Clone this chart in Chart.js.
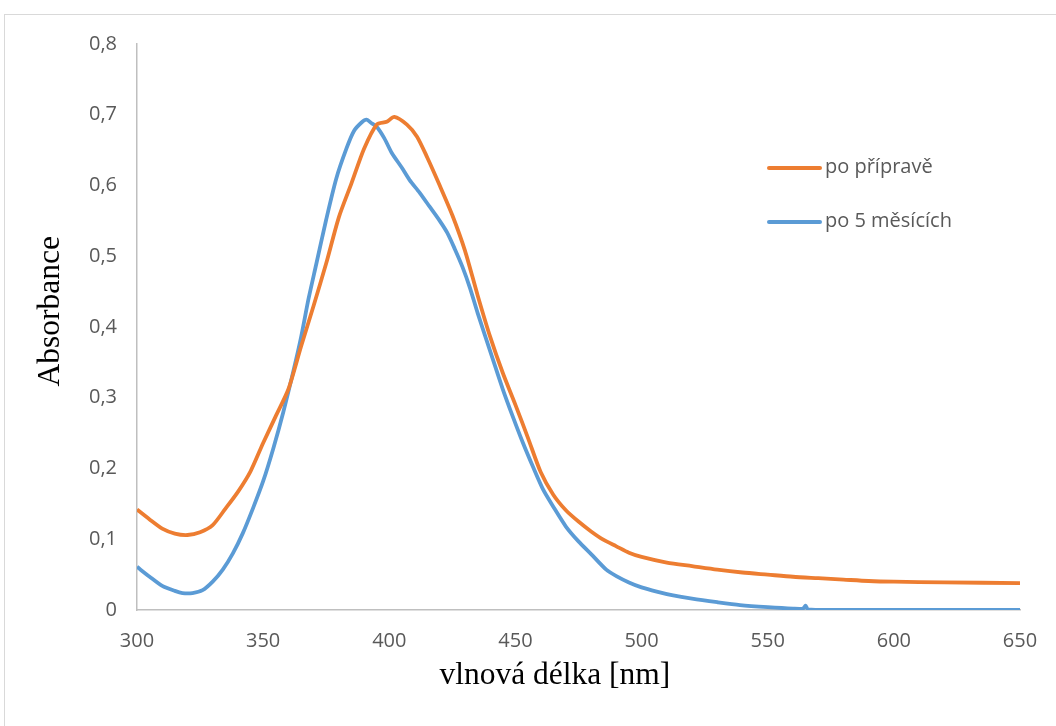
<!DOCTYPE html>
<html>
<head>
<meta charset="utf-8">
<script src="https://cdn.jsdelivr.net/npm/chart.js@4/dist/chart.umd.min.js"></script>
<style>
  html, body { margin: 0; padding: 0; background: #ffffff; overflow: hidden; }
  #frame { position: absolute; left: 4px; top: 14px; width: 1100px; height: 800px; border: 1px solid #d9d9d9; }
  #wrap { position: absolute; left: 0; top: 0; width: 1056px; height: 726px; }
</style>
</head>
<body>
<div id="frame"></div>
<div id="wrap"><canvas id="c" width="1056" height="726"></canvas></div>
<script>
// ---- data ----
const seriesNames = ['po přípravě', 'po 5 měsících'];
const xTitle = 'vlnová délka [nm]';
const yTitle = 'Absorbance';

const wlPriprava = [300,305,310,315,320,325,330,335,340,345,350,355,360,365,370,375,380,385,390,395,399,402,407,411,415,420,425,430,435,440,445,450,455,460,465,470,475,480,485,490,495,500,510,520,530,540,550,560,570,580,590,600,620,650];
const absPriprava = [0.142,0.128,0.115,0.108,0.106,0.110,0.120,0.143,0.167,0.196,0.236,0.274,0.312,0.372,0.430,0.490,0.555,0.603,0.652,0.686,0.690,0.697,0.686,0.669,0.640,0.600,0.558,0.508,0.445,0.386,0.335,0.290,0.243,0.195,0.163,0.141,0.125,0.111,0.099,0.090,0.081,0.075,0.067,0.062,0.057,0.053,0.050,0.047,0.045,0.043,0.041,0.040,0.039,0.038];

const wlMesice = [300,305,310,315,318,322,326,330,334,338,342,346,350,354,358,362,365,368,371,375,379,383,386,389,391,393,395,398,401,405,408,412,416,420,423,426,429,432,435,441,445,449,453,457,461,465,470,475,480,486,490,495,500,506,512,520,530,539,550,560,564,565,566,575,600,650];
const absMesice = [0.061,0.047,0.034,0.027,0.024,0.024,0.028,0.040,0.057,0.080,0.109,0.144,0.182,0.228,0.280,0.338,0.385,0.440,0.488,0.552,0.610,0.652,0.677,0.689,0.693,0.688,0.683,0.667,0.646,0.625,0.608,0.590,0.570,0.550,0.533,0.510,0.485,0.455,0.420,0.355,0.312,0.273,0.236,0.202,0.170,0.146,0.118,0.097,0.079,0.057,0.048,0.039,0.032,0.026,0.021,0.016,0.011,0.007,0.004,0.002,0.002,0.006,0.001,0.000,0.000,0.000];

const xTicks = [300,350,400,450,500,550,600,650];
const yTicks = [0,0.1,0.2,0.3,0.4,0.5,0.6,0.7,0.8];

const colors = ['#ED7D31', '#5B9BD5'];

const toPts = (xs, ys) => xs.map((x, i) => ({x: x, y: ys[i]}));

const fmt = v => (Math.abs(v) < 1e-9 ? '0' : v.toFixed(1).replace('.', ','));

const legendPlugin = {
  id: 'customLegend',
  afterDraw(chart) {
    const ctx = chart.ctx;
    const ys = [168, 222];
    ctx.save();
    chart.data.datasets.forEach((ds, i) => {
      ctx.strokeStyle = ds.borderColor;
      ctx.lineWidth = 4;
      ctx.lineCap = 'round';
      ctx.beginPath();
      ctx.moveTo(769, ys[i]);
      ctx.lineTo(820, ys[i]);
      ctx.stroke();
      ctx.fillStyle = '#595959';
      ctx.font = '20px "Open Sans"';
      ctx.textBaseline = 'middle';
      ctx.textAlign = 'left';
      ctx.fillText(ds.label, 825, ys[i] - 1);
    });
    ctx.restore();
  }
};

new Chart(document.getElementById('c'), {
  type: 'scatter',
  data: {
    datasets: [
      { label: seriesNames[0], data: toPts(wlPriprava, absPriprava), showLine: true, borderColor: colors[0], backgroundColor: colors[0], borderWidth: 3.8, pointRadius: 0, tension: 0.25 },
      { label: seriesNames[1], data: toPts(wlMesice, absMesice), showLine: true, borderColor: colors[1], backgroundColor: colors[1], borderWidth: 3.8, pointRadius: 0, tension: 0.25 }
    ]
  },
  options: {
    responsive: false,
    animation: false,
    devicePixelRatio: 1,
    layout: { padding: { left: 0, top: 44, right: 36, bottom: 0 } },
    plugins: { legend: { display: false }, tooltip: { enabled: false } },
    scales: {
      x: {
        type: 'linear', min: 300, max: 650,
        afterBuildTicks: s => { s.ticks = xTicks.map(v => ({value: v})); },
        afterFit: s => { s.height = 116; },
        grid: { display: false },
        border: { display: true, color: '#bfbfbf', width: 1.5 },
        ticks: { color: '#595959', font: { family: 'Open Sans', size: 20 }, padding: 11, maxRotation: 0 },
        title: { display: true, text: xTitle + '      ', color: '#000000', font: { family: 'Liberation Serif', size: 31.5 }, padding: { top: 0, bottom: 31 } }
      },
      y: {
        type: 'linear', min: 0, max: 0.8,
        afterBuildTicks: s => { s.ticks = yTicks.map(v => ({value: v})); },
        afterFit: s => { s.width = 137; },
        grid: { display: false },
        border: { display: true, color: '#bfbfbf', width: 1.5 },
        ticks: { color: '#595959', font: { family: 'Open Sans', size: 20 }, padding: 12, callback: v => fmt(v) },
        title: { display: true, text: '    ' + yTitle, color: '#000000', font: { family: 'Liberation Serif', size: 31.5 }, padding: { top: 32, bottom: 0 } }
      }
    }
  },
  plugins: [legendPlugin]
});
</script>
</body>
</html>
